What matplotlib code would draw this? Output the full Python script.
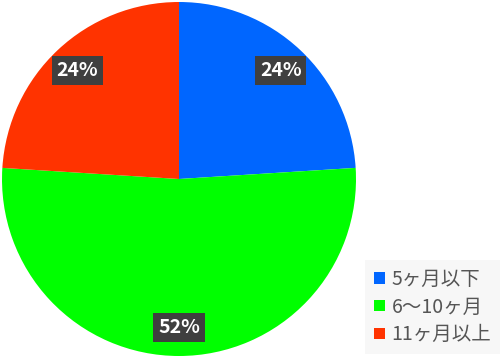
import matplotlib.pyplot as plt
from matplotlib.patches import Patch

plt.rcParams['font.family'] = ['Noto Sans CJK JP', 'DejaVu Sans']

labels = ['5ヶ月以下', '6〜10ヶ月', '11ヶ月以上']
values = [24, 52, 24]
colors = ['#0066ff', '#00ff00', '#ff3300']


def main():
    fig = plt.figure(figsize=(5.0, 3.58), dpi=100)
    ax = fig.add_axes([2 / 500, 2 / 358, 354 / 500, 354 / 358])
    ax.pie(values, colors=colors, startangle=90, counterclock=False,
           radius=1.0, autopct='%d%%', pctdistance=0.84,
           wedgeprops={'linewidth': 0},
           textprops={'color': 'white', 'fontsize': 14, 'fontweight': 'bold',
                      'bbox': {'boxstyle': 'square,pad=0.25', 'facecolor': '#3f3f3f',
                               'edgecolor': 'none'}})
    ax.set_xlim(-1, 1)
    ax.set_ylim(-1, 1)
    ax.set_aspect('equal')

    handles = [Patch(facecolor=c, edgecolor='none') for c in colors]
    leg = fig.legend(handles, labels, loc='lower right',
                     bbox_to_anchor=(1.0, 4 / 358), frameon=True,
                     fontsize=14, handlelength=0.55, handleheight=0.55,
                     handletextpad=0.35, labelspacing=0.35, borderpad=0.45,
                     borderaxespad=0, fancybox=False)
    leg.get_frame().set_facecolor('#f7f7f7')
    leg.get_frame().set_edgecolor('none')
    leg.get_frame().set_alpha(1)
    for t in leg.get_texts():
        t.set_color('#555555')

    fig.savefig('out.png', dpi=100)


main()
